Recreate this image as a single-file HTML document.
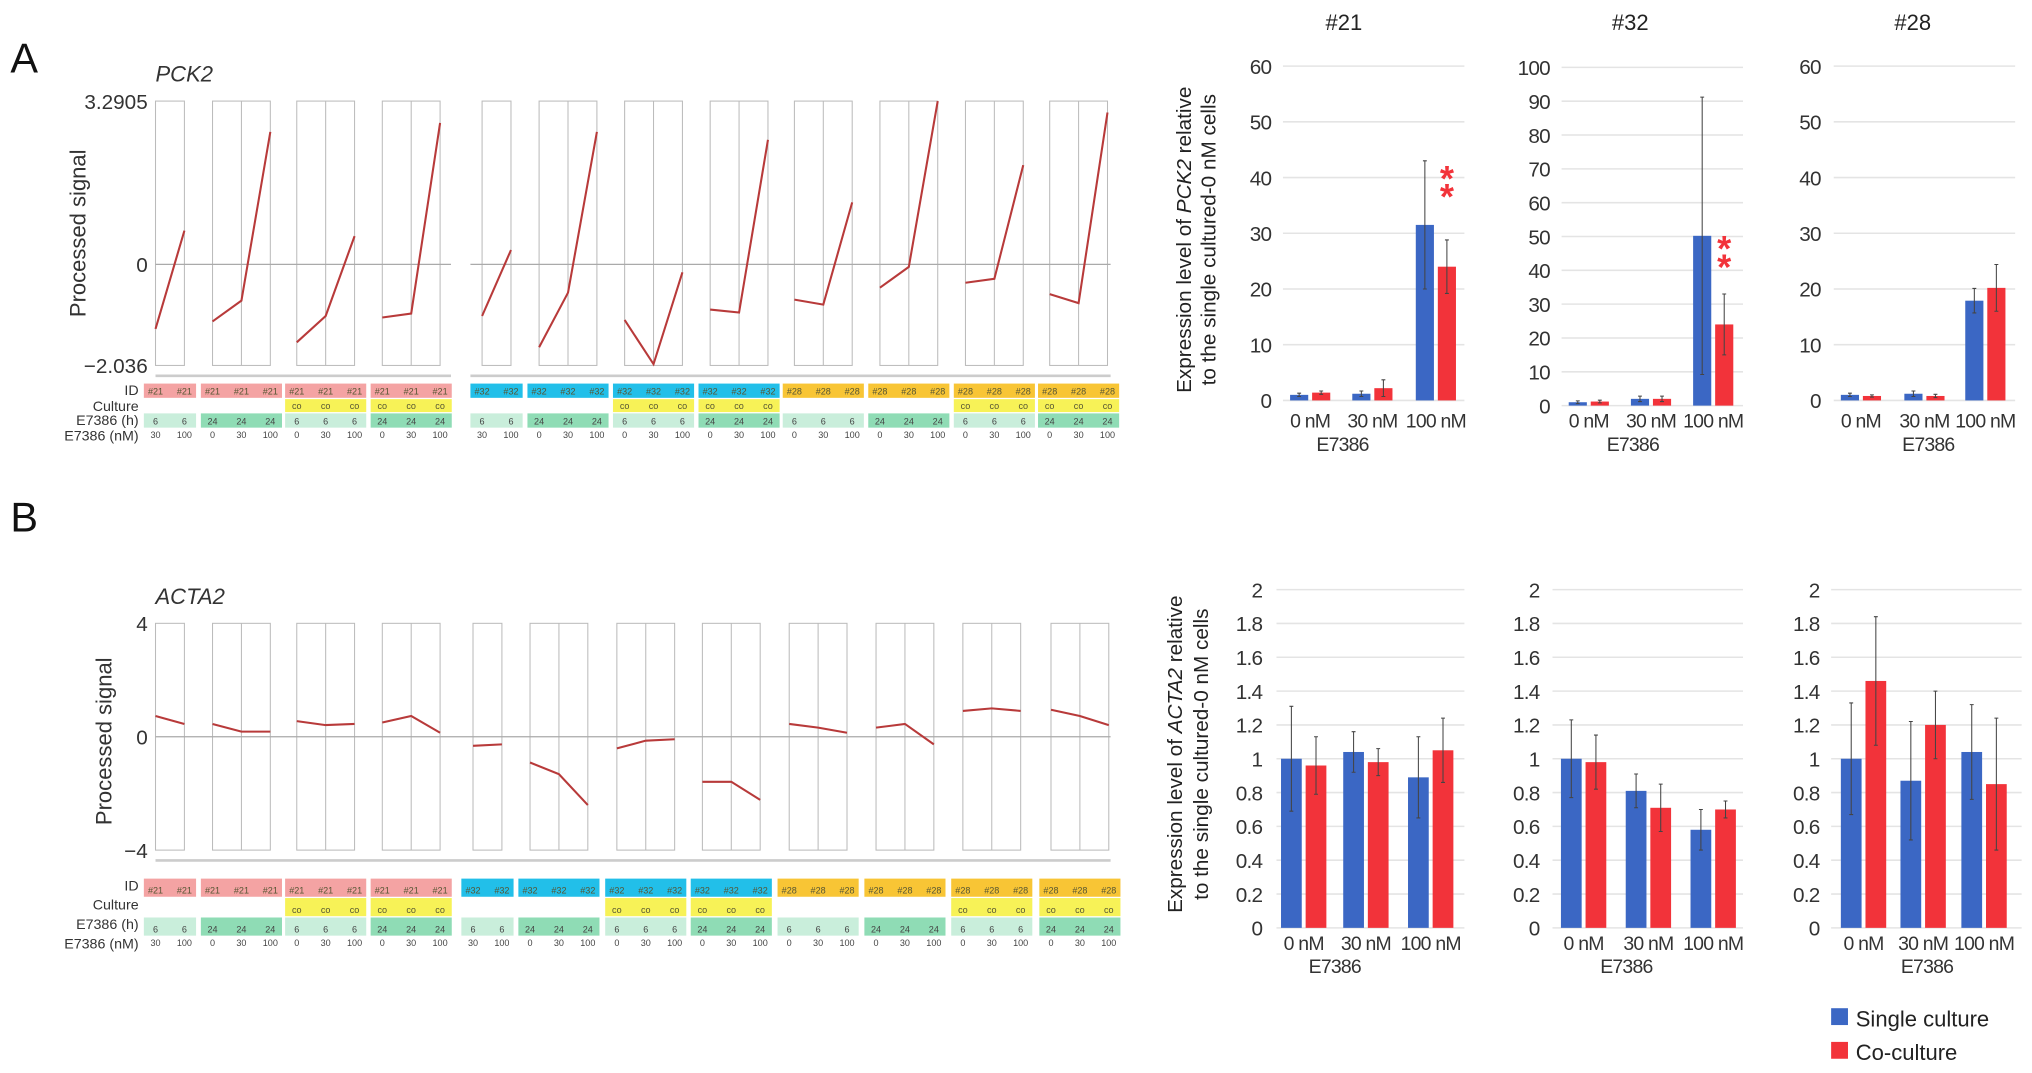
<!DOCTYPE html>
<html><head><meta charset="utf-8"><style>
html,body{margin:0;padding:0;background:#fff;width:2032px;height:1073px;overflow:hidden}
svg{display:block;font-family:"Liberation Sans",Arial,sans-serif}
.bc{letter-spacing:-0.6px}
</style></head><body>
<svg id="fig" width="2032" height="1073" viewBox="0 0 1568 828" preserveAspectRatio="none" xmlns="http://www.w3.org/2000/svg">
<text x="8" y="56" font-size="32" fill="#111">A</text>
<text x="8" y="410" font-size="32" fill="#111">B</text>
<text x="120" y="63" font-size="17" font-style="italic" fill="#333">PCK2</text>
<text x="120" y="466" font-size="17" font-style="italic" fill="#333">ACTA2</text>
<text transform="translate(66,180) rotate(-90)" text-anchor="middle" font-size="17" fill="#333">Processed signal</text>
<text transform="translate(86,572) rotate(-90)" text-anchor="middle" font-size="17" fill="#333">Processed signal</text>
<text transform="translate(919,185) rotate(-90)" text-anchor="middle" font-size="16" fill="#222">Expression level of <tspan font-style="italic">PCK2</tspan> relative</text>
<text transform="translate(938,185) rotate(-90)" text-anchor="middle" font-size="16" fill="#222">to the single cultured-0 nM cells</text>
<text transform="translate(912,582) rotate(-90)" text-anchor="middle" font-size="16" fill="#222">Expression level of <tspan font-style="italic">ACTA2</tspan> relative</text>
<text transform="translate(932,582) rotate(-90)" text-anchor="middle" font-size="16" fill="#222">to the single cultured-0 nM cells</text>
<rect x="1413" y="778" width="13" height="13" fill="#3b67c4"/>
<text x="1432" y="792" font-size="17" fill="#222">Single culture</text>
<rect x="1413" y="804" width="13" height="13" fill="#f2333a"/>
<text x="1432" y="818" font-size="17" fill="#222">Co-culture</text>
</svg>
<script>
const NS="http://www.w3.org/2000/svg";
const svg=document.getElementById('fig');
function mk(tag,attrs,txt){const e=document.createElementNS(NS,tag);for(const k in attrs)e.setAttribute(k,attrs[k]);if(txt!==undefined)e.textContent=txt;svg.appendChild(e);return e;}

// ---- Profile data (processed signal) ----
const pck2Values=[[-1.3,0.68],[-1.15,-0.73,2.67],[-1.57,-1.04,0.57],[-1.07,-0.99,2.85],[-1.04,0.29],[-1.67,-0.57,2.67],[-1.12,-2.01,-0.16],[-0.91,-0.97,2.51],[-0.71,-0.81,1.25],[-0.47,-0.05,3.29],[-0.37,-0.29,2.0],[-0.6,-0.78,3.06]];
const acta2Values=[[0.73,0.45],[0.45,0.18,0.18],[0.55,0.41,0.45],[0.5,0.73,0.14],[-0.32,-0.27],[-0.91,-1.32,-2.41],[-0.41,-0.14,-0.09],[-1.59,-1.59,-2.23],[0.45,0.32,0.14],[0.32,0.45,-0.27],[0.91,1.0,0.91],[0.95,0.73,0.41]];
const groupIds=['#21','#21','#21','#21','#32','#32','#32','#32','#28','#28','#28','#28'];
const groupCo=[false,false,true,true,false,false,true,true,false,false,true,true];
const groupHours=['6','24','6','24','6','24','6','24','6','24','6','24'];
const groupNm=[['30','100'],['0','30','100'],['0','30','100'],['0','30','100'],['30','100'],['0','30','100'],['0','30','100'],['0','30','100'],['0','30','100'],['0','30','100'],['0','30','100'],['0','30','100']];

const idColor={'#21':'#f4a3a3','#32':'#22bfe9','#28':'#f8c535'};
const boxLeftA=[120,164,229,295,372,416,482,548,613,679,745,810];
const boxLeftB=[120,164,229,295,365,409,476,542,609,676,743,811];
const step=22.3;

function profile(name,vals,yMax,yMin,top,bot,boxLeft,tickLabels,split,rowY){
  const y=v=> top+(yMax-v)/(yMax-yMin)*(bot-top);
  const tickVals=[yMax,0,yMin];
  tickVals.forEach((t,i)=>{
    const el=mk('text',{x:114,y:y(t)+6,'text-anchor':'end','font-size':16,fill:'#333'},tickLabels[i]);
    
    
  });
  vals.forEach((g,gi)=>{
    const x0=boxLeft[gi],n=g.length,w=(n-1)*step;
    const r=mk('rect',{x:x0,y:top,width:w,height:bot-top,fill:'none',stroke:'#bbb','stroke-width':0.8});
    
    
    for(let k=1;k<n-1;k++){const l=mk('line',{x1:x0+k*step,x2:x0+k*step,y1:top,y2:bot,stroke:'#bbb','stroke-width':0.8});
      
      }
  });
  const segs=split?[[120,348],[363,857]]:[[120,857]];
  segs.forEach(s=>{
    const z=mk('line',{x1:s[0],x2:s[1],y1:y(0),y2:y(0),stroke:'#aaa','stroke-width':1});
    
    
    const sc=mk('line',{x1:s[0],x2:s[1],y1:bot+8,y2:bot+8,stroke:'#ccc','stroke-width':2});
    
    
  });
  vals.forEach((g,gi)=>{
    const pts=g.map((v,k)=>(boxLeft[gi]+k*step)+','+y(v)).join(' ');
    const p=mk('polyline',{points:pts,fill:'none',stroke:'#b83a3a','stroke-width':1.6});
    
    
  });
  const labels=['ID','Culture','E7386 (h)','E7386 (nM)'];
  const rowH=[rowY[1]-rowY[0],rowY[2]-rowY[1],rowY[3]-rowY[2]];
  labels.forEach((lb,i)=>{
    const t=mk('text',{x:107,y:rowY[i]+9,'text-anchor':'end','font-size':11,fill:'#333'},lb);
    
    
  });
  vals.forEach((g,gi)=>{
    const x0=boxLeft[gi]-9,n=g.length,w=(n-1)*step+18;
    const c1=mk('rect',{x:x0,y:rowY[0],width:w,height:rowH[0]-1,fill:idColor[groupIds[gi]]});
    
    
    if(groupCo[gi]){const c2=mk('rect',{x:x0,y:rowY[1],width:w,height:rowH[1]-1,fill:'#f7f257'});
      
      }
    const c3=mk('rect',{x:x0,y:rowY[2],width:w,height:rowH[2]-1,fill:groupHours[gi]==='6'?'#c9eedb':'#8fdcb5'});
    
    
    for(let k=0;k<n;k++){
      const cx=boxLeft[gi]+k*step;
      const a=mk('text',{x:cx,y:rowY[0]+rowH[0]-3.5,'text-anchor':'middle','font-size':7,fill:'#553'},groupIds[gi]);
      
      
      if(groupCo[gi]){const b=mk('text',{x:cx,y:rowY[1]+rowH[1]-3.5,'text-anchor':'middle','font-size':7,fill:'#553'},'co');
        
        }
      const h=mk('text',{x:cx,y:rowY[2]+rowH[2]-3.5,'text-anchor':'middle','font-size':7,fill:'#444'},groupHours[gi]);
      
      
      const nm=mk('text',{x:cx,y:rowY[3]+7,'text-anchor':'middle','font-size':7,fill:'#444'},groupNm[gi][k]);
      
      
    }
  });
}
profile('pck2',pck2Values,3.2905,-2.036,78,282,boxLeftA,['3.2905','0','\u22122.036'],true,[296,308,319,331]);
profile('acta2',acta2Values,4,-4,481,656,boxLeftB,['4','0','\u22124'],false,[678,693,708,723]);

// ---- Bar chart data ----
const doseCats=['0 nM','30 nM','100 nM'];
const pck2_21_single=[1,1.2,31.5], pck2_21_co=[1.4,2.2,24], pck2_21_se=[0.3,0.5,11.5], pck2_21_ce=[0.3,1.5,4.8];
const pck2_32_single=[1,2,50.2], pck2_32_co=[1.2,2,24], pck2_32_se=[0.4,0.8,41], pck2_32_ce=[0.4,0.8,9];
const pck2_28_single=[1,1.2,17.9], pck2_28_co=[0.8,0.8,20.2], pck2_28_se=[0.3,0.5,2.2], pck2_28_ce=[0.2,0.3,4.2];
const acta2_21_single=[1,1.04,0.89], acta2_21_co=[0.96,0.98,1.05], acta2_21_se=[0.31,0.12,0.24], acta2_21_ce=[0.17,0.08,0.19];
const acta2_32_single=[1,0.81,0.58], acta2_32_co=[0.98,0.71,0.7], acta2_32_se=[0.23,0.1,0.12], acta2_32_ce=[0.16,0.14,0.05];
const acta2_28_single=[1,0.87,1.04], acta2_28_co=[1.46,1.2,0.85], acta2_28_se=[0.33,0.35,0.28], acta2_28_ce=[0.38,0.2,0.39];
const pck2Ticks21=[0,10,20,30,40,50,60];
const pck2Ticks32=[0,10,20,30,40,50,60,70,80,90,100];
const acta2Ticks=[0,0.2,0.4,0.6,0.8,1,1.2,1.4,1.6,1.8,2];

function barChart(name,o){
  const y=v=>o.bot-(v/o.max)*(o.bot-o.top);
  o.ticks.forEach(t=>{
    const g=mk('line',{x1:o.gx0,x2:o.gx1,y1:y(t),y2:y(t),stroke:'#e4e4e4','stroke-width':1.2});
    
    
    const l=mk('text',{x:o.lx,y:y(t)+6,'text-anchor':'end','font-size':16,fill:'#333',class:'bc'},String(t));
    
    
  });
  const series=[[o.s,o.se,'#3b67c4',-o.bw/2-1.5,'single'],[o.c,o.ce,'#f2333a',o.bw/2+1.5,'co']];
  doseCats.forEach((cat,i)=>{
    const cx=o.cx[i];
    series.forEach(s=>{
      const v=s[0][i],e=s[1][i],bx=cx+s[3]-o.bw/2;
      const r=mk('rect',{x:bx,y:y(v),width:o.bw,height:o.bot-y(v),fill:s[2]});
      
      
      const mx=cx+s[3];
      const el=mk('path',{d:`M${mx},${y(v+e)}V${y(Math.max(0,v-e))}M${mx-1.5},${y(v+e)}H${mx+1.5}M${mx-1.5},${y(Math.max(0,v-e))}H${mx+1.5}`,stroke:'#444','stroke-width':0.8,fill:'none'});
      
      
    });
    const t=mk('text',{x:cx,y:o.xly,'text-anchor':'middle','font-size':15,fill:'#333',class:'bc'},cat);
    
    
  });
  const xt=mk('text',{x:o.ex,y:o.xly+18,'text-anchor':'middle','font-size':15,fill:'#333',class:'bc'},'E7386');
  
  
  if(o.title){const tt=mk('text',{x:o.tx,y:23,'text-anchor':'middle','font-size':17,fill:'#222'},o.title);
    
    }
  if(o.stars){const st=mk('text',{x:o.cx[2]+o.bw/2+1.5,y:y(o.stars)+6,'text-anchor':'middle','font-size':28,'font-weight':'bold',fill:'#f2333a'},'*');
    
    
    const st2=mk('text',{x:o.cx[2]+o.bw/2+1.5,y:y(o.stars)+20,'text-anchor':'middle','font-size':28,'font-weight':'bold',fill:'#f2333a'},'*');
    
    }
}
barChart('pck2-21',{s:pck2_21_single,c:pck2_21_co,se:pck2_21_se,ce:pck2_21_ce,max:60,ticks:pck2Ticks21,top:51,bot:309,gx0:990,gx1:1130,lx:981,cx:[1011,1059,1108],bw:14,xly:330,ex:1036,title:'#21',tx:1037,stars:39});
barChart('pck2-32',{s:pck2_32_single,c:pck2_32_co,se:pck2_32_se,ce:pck2_32_ce,max:100,ticks:pck2Ticks32,top:52,bot:313,gx0:1205,gx1:1345,lx:1196,cx:[1226,1274,1322],bw:14,xly:330,ex:1260,title:'#32',tx:1258,stars:45});
barChart('pck2-28',{s:pck2_28_single,c:pck2_28_co,se:pck2_28_se,ce:pck2_28_ce,max:60,ticks:pck2Ticks21,top:51,bot:309,gx0:1415,gx1:1555,lx:1405,cx:[1436,1485,1532],bw:14,xly:330,ex:1488,title:'#28',tx:1476});
barChart('acta2-21',{s:acta2_21_single,c:acta2_21_co,se:acta2_21_se,ce:acta2_21_ce,max:2,ticks:acta2Ticks,top:455,bot:716,gx0:985,gx1:1130,lx:974,cx:[1006,1054,1104],bw:16,xly:733,ex:1030});
barChart('acta2-32',{s:acta2_32_single,c:acta2_32_co,se:acta2_32_se,ce:acta2_32_ce,max:2,ticks:acta2Ticks,top:455,bot:716,gx0:1198,gx1:1345,lx:1188,cx:[1222,1272,1322],bw:16,xly:733,ex:1255});
barChart('acta2-28',{s:acta2_28_single,c:acta2_28_co,se:acta2_28_se,ce:acta2_28_ce,max:2,ticks:acta2Ticks,top:455,bot:716,gx0:1413,gx1:1560,lx:1404,cx:[1438,1484,1531],bw:16,xly:733,ex:1487});
</script>
</body></html>
